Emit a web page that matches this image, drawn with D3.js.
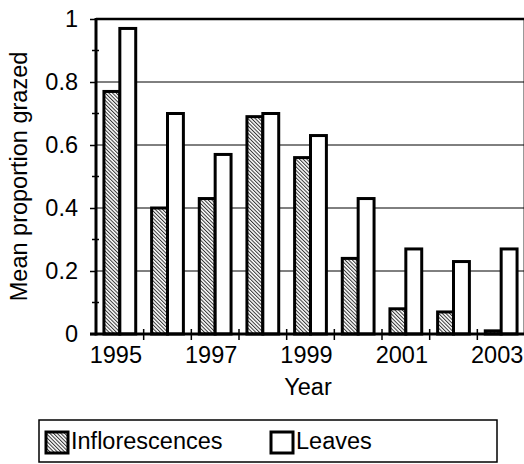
<!DOCTYPE html>
<html>
<head>
<meta charset="utf-8">
<script src="https://cdn.jsdelivr.net/npm/d3@7/dist/d3.min.js"></script>
<style>
  html, body { margin: 0; padding: 0; background: #fff; }
  svg { display: block; font-family: "Liberation Sans", Arial, sans-serif; }
</style>
</head>
<body>
<svg id="chart" width="524" height="464"></svg>
<script>
const years = ["1995","1996","1997","1998","1999","2000","2001","2002","2003"];
const seriesNames = ["Inflorescences", "Leaves"];
const inflorescences = [0.77, 0.40, 0.43, 0.69, 0.56, 0.24, 0.08, 0.07, 0.01];
const leaves = [0.97, 0.70, 0.57, 0.70, 0.63, 0.43, 0.27, 0.23, 0.27];
const yTicks = [0, 0.2, 0.4, 0.6, 0.8, 1];
const yMinorTicks = [0.1, 0.3, 0.5, 0.7, 0.9];
const xLabelYears = ["1995","1997","1999","2001","2003"];

const svg = d3.select("#chart");
const m = {left: 96, right: 524, top: 19, bottom: 334};

const defs = svg.append("defs");
const pat = defs.append("pattern")
  .attr("id", "hatch").attr("patternUnits", "userSpaceOnUse")
  .attr("width", 2.6).attr("height", 2.6)
  .attr("patternTransform", "rotate(-45)");
pat.append("rect").attr("width", 2.6).attr("height", 2.6).attr("fill", "#fff");
pat.append("rect").attr("width", 1).attr("height", 2.6).attr("fill", "#333");

const x0 = d3.scaleBand().domain(years).range([m.left, m.right + 1]).padding(0);
const x1 = d3.scaleBand().domain(seriesNames).range([0, x0.bandwidth()]).paddingInner(0).paddingOuter(0.5);
const y = d3.scaleLinear().domain([0, 1]).range([m.bottom, m.top]);

// plot border right (light grey)
svg.append("line").attr("x1", m.right - 0.5).attr("x2", m.right - 0.5)
  .attr("y1", m.top).attr("y2", m.bottom).attr("stroke", "#999").attr("stroke-width", 1);

// gridlines
svg.append("g").selectAll("line").data(yTicks.filter(d => d > 0)).join("line")
  .attr("x1", m.left).attr("x2", m.right)
  .attr("y1", d => y(d)).attr("y2", d => y(d))
  .attr("stroke", "#000").attr("stroke-width", d => d === 1 ? 2.5 : 1);

// bars
const data = years.map((yr, i) => ({year: yr, vals: [
  {s: seriesNames[0], v: inflorescences[i]},
  {s: seriesNames[1], v: leaves[i]}
]}));
const groups = svg.append("g").selectAll("g").data(data).join("g")
  .attr("transform", d => `translate(${x0(d.year)},0)`);
groups.selectAll("rect").data(d => d.vals).join("rect")
  .attr("x", d => x1(d.s)).attr("width", x1.bandwidth())
  .attr("y", d => y(d.v)).attr("height", d => y(0) - y(d.v))
  .attr("fill", d => d.s === "Leaves" ? "#fff" : "url(#hatch)")
  .attr("stroke", "#000").attr("stroke-width", 3);

// y axis
const yAxis = d3.axisLeft(y).tickValues(yTicks).tickSize(6).tickPadding(12)
  .tickFormat(d => d3.format("")(d));
const gy = svg.append("g").attr("transform", `translate(${m.left},0)`).call(yAxis);
gy.select(".domain").remove();
gy.selectAll(".tick line").attr("stroke", "#000").attr("stroke-width", 1.5);
gy.selectAll(".tick text").attr("font-size", 23.5).attr("fill", "#000")
  .attr("font-family", "'Liberation Sans', Arial, sans-serif");
svg.append("g").selectAll("line").data(yMinorTicks).join("line")
  .attr("x1", m.left - 4).attr("x2", m.left + 3)
  .attr("y1", d => y(d)).attr("y2", d => y(d))
  .attr("stroke", "#000").attr("stroke-width", 1.5);
svg.append("line").attr("x1", m.left).attr("x2", m.left)
  .attr("y1", m.top - 1).attr("y2", m.bottom + 1.5)
  .attr("stroke", "#000").attr("stroke-width", 3);

// x axis
svg.append("g").selectAll("line").data(years.slice(1)).join("line")
  .attr("x1", d => x0(d)).attr("x2", d => x0(d))
  .attr("y1", m.bottom - 5).attr("y2", m.bottom + 6)
  .attr("stroke", "#000").attr("stroke-width", 1.5);
svg.append("line").attr("x1", m.left - 6).attr("x2", m.right)
  .attr("y1", m.bottom).attr("y2", m.bottom)
  .attr("stroke", "#000").attr("stroke-width", 3);
svg.append("g").selectAll("text").data(xLabelYears).join("text")
  .attr("x", d => x0(d) + x0.bandwidth() / 2 - 4)
  .attr("y", 363)
  .attr("text-anchor", "middle").attr("font-size", 23.5).attr("fill", "#000")
  .text(d => d);

// axis titles
svg.append("text").attr("x", 308).attr("y", 395).attr("text-anchor", "middle")
  .attr("font-size", 23.5).attr("fill", "#000").text("Year");
svg.append("text").attr("transform", `translate(27,${(m.top + m.bottom) / 2}) rotate(-90)`)
  .attr("text-anchor", "middle").attr("font-size", 23.5).attr("fill", "#000")
  .text("Mean proportion grazed");

// legend
const lg = svg.append("g");
lg.append("rect").attr("x", 39).attr("y", 420).attr("width", 458).attr("height", 42)
  .attr("fill", "#fff").attr("stroke", "#000").attr("stroke-width", 1.5);
const legendX = [46, 271];
const lItems = lg.selectAll("g").data(seriesNames).join("g")
  .attr("transform", (d, i) => `translate(${legendX[i]},0)`);
lItems.append("rect").attr("x", 0).attr("y", 432).attr("width", 22).attr("height", 21)
  .attr("fill", d => d === "Leaves" ? "#fff" : "url(#hatch)")
  .attr("stroke", "#000").attr("stroke-width", 3);
lItems.append("text").attr("x", 25).attr("y", 449).attr("font-size", 23.5).attr("fill", "#000")
  .text(d => d);
</script>
</body>
</html>
